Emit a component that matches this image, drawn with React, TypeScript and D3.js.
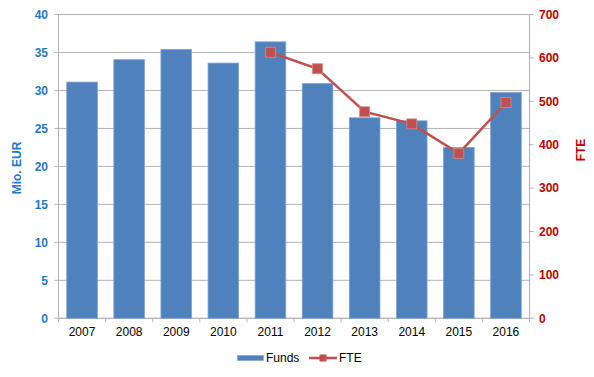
import React from "react";
import * as d3 from "d3";

const years = ["2007","2008","2009","2010","2011","2012","2013","2014","2015","2016"];
const funds = [31.1, 34.05, 35.4, 33.6, 36.4, 30.9, 26.4, 26.0, 22.5, 29.75];
const fteYears = ["2011","2012","2013","2014","2015","2016"];
const fte = [613, 575, 476, 448, 380, 497];
const leftTicks = [0,5,10,15,20,25,30,35,40];
const rightTicks = [0,100,200,300,400,500,600,700];

const W = 594, H = 377;
const L = 58.5, R = 529.5, T = 14.5, B = 318.3;
const FONT = "'Liberation Sans', Arial, sans-serif";

export default function App() {
  const x = d3.scaleBand<string>().domain(years).range([L, R]).paddingInner(0.35).paddingOuter(0.175);
  const xb = d3.scaleBand<string>().domain(years).range([L, R]);
  const yL = d3.scaleLinear().domain([0, 40]).range([B, T]);
  const yR = d3.scaleLinear().domain([0, 700]).range([B, T]);
  const line = d3.line<number>()
    .x((_, i) => (xb(fteYears[i]) as number) + xb.bandwidth() / 2)
    .y(d => yR(d));
  const grid = "#b3b3b3";
  return (
    <svg width={W} height={H} style={{ position: "absolute", left: 0, top: 0, background: "#fff" }} fontFamily={FONT}>
      {leftTicks.map(t => (
        <g key={"g" + t}>
          <line x1={L - 4} x2={R} y1={yL(t)} y2={yL(t)} stroke={grid} strokeWidth={1} />
          <text x={48} y={yL(t)} dy="0.35em" textAnchor="end" fontSize={12} fontWeight="bold" fill="#1F77C8">{t}</text>
        </g>
      ))}
      {rightTicks.map(t => (
        <g key={"r" + t}>
          <line x1={R} x2={R + 4} y1={yR(t)} y2={yR(t)} stroke={grid} strokeWidth={1} />
          <text x={539} y={yR(t)} dy="0.35em" textAnchor="start" fontSize={12} fontWeight="bold" fill="#C00000">{t}</text>
        </g>
      ))}
      <line x1={L} x2={L} y1={T} y2={B} stroke={grid} />
      <line x1={R} x2={R} y1={T} y2={B} stroke={grid} />
      <line x1={L} x2={R} y1={B} y2={B} stroke={grid} />
      {years.map((y) => (
        <line key={"xt" + y} x1={(xb(y) as number)} x2={(xb(y) as number)} y1={B} y2={B + 4} stroke={grid} />
      ))}
      <line x1={R} x2={R} y1={B} y2={B + 4} stroke={grid} />
      {years.map((y, i) => (
        <rect key={"b" + y} x={x(y)} y={yL(funds[i])} width={x.bandwidth()} height={B - yL(funds[i])}
          fill="#4F81BD" stroke="#7FA3D3" strokeWidth={0.8} />
      ))}
      <path d={line(fte) || ""} fill="none" stroke="#C0504D" strokeWidth={2.5} />
      {fte.map((v, i) => {
        const cx = (xb(fteYears[i]) as number) + xb.bandwidth() / 2;
        return <rect key={"m" + i} x={cx - 5} y={yR(v) - 5} width={10} height={10} fill="#C0504D" stroke="#D98a88" strokeWidth={0.8} />;
      })}
      {years.map(y => (
        <text key={"xl" + y} x={(xb(y) as number) + xb.bandwidth() / 2} y={336} textAnchor="middle" fontSize={12} fill="#000">{y}</text>
      ))}
      <text transform={`translate(21,168) rotate(-90)`} textAnchor="middle" fontSize={12} fontWeight="bold" fill="#1F77C8">Mio. EUR</text>
      <text transform={`translate(585,150) rotate(-90)`} textAnchor="middle" fontSize={12} fontWeight="bold" fill="#C00000">FTE</text>
      <rect x={237.5} y={355.5} width={26} height={5} fill="#4F81BD" stroke="#7FA3D3" strokeWidth={0.6} />
      <text x={266} y={362} fontSize={12} fill="#000">Funds</text>
      <line x1={309} x2={337} y1={358} y2={358} stroke="#C0504D" strokeWidth={2.5} />
      <rect x={319.5} y={354.5} width={7} height={7} fill="#C0504D" />
      <text x={339} y={362} fontSize={12} fill="#000">FTE</text>
    </svg>
  );
}
